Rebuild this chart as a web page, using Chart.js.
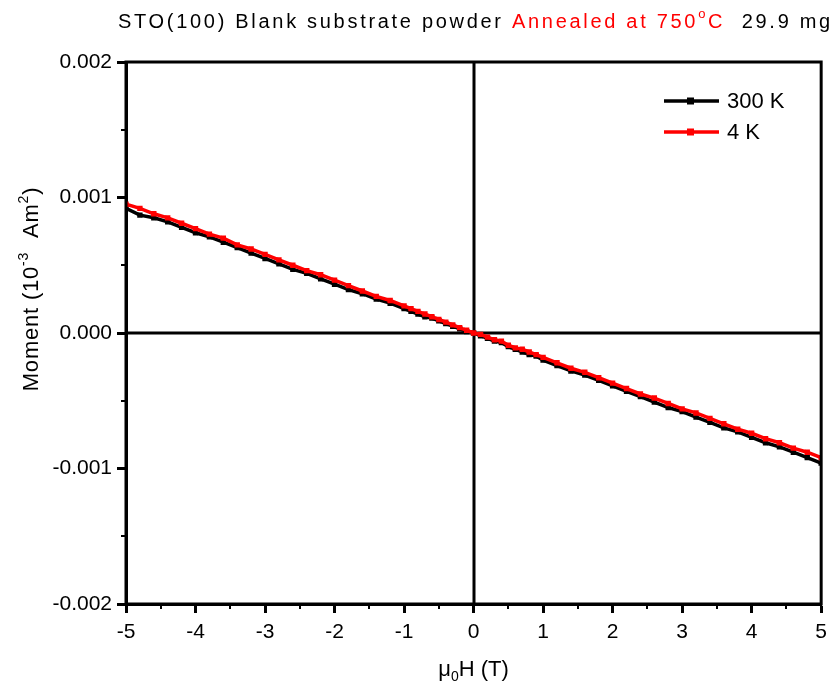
<!DOCTYPE html>
<html>
<head>
<meta charset="utf-8">
<script src="https://cdn.jsdelivr.net/npm/chart.js@4.4.0/dist/chart.umd.min.js"></script>
<style>
  html, body { margin: 0; padding: 0; background: #fff; }
  #wrap { width: 834px; height: 688px; position: relative; }
</style>
</head>
<body>
<div id="wrap"><canvas id="mh-chart"></canvas></div>
<script>
// field in tesla
const fieldT = [
    -5.0, -4.8, -4.6, -4.4, -4.2, -4.0, -3.8, -3.6, -3.4, -3.2,
    -3.0, -2.8, -2.6, -2.4, -2.2, -2.0, -1.8, -1.6, -1.4, -1.2,
    -1.0, -0.9, -0.8, -0.7, -0.6, -0.5, -0.4, -0.3, -0.2, -0.1,
    0.0, 0.1, 0.2, 0.3, 0.4, 0.5, 0.6, 0.7, 0.8, 0.9, 1.0,
    1.2, 1.4, 1.6, 1.8, 2.0, 2.2, 2.4, 2.6, 2.8,
    3.0, 3.2, 3.4, 3.6, 3.8, 4.0, 4.2, 4.4, 4.6, 4.8, 5.0
];

const moment300K = [
    0.00092, 0.00087, 0.00085, 0.00082, 0.00078, 0.00074, 0.00071, 0.00067, 0.00063, 0.00059,
    0.00055, 0.00051, 0.00047, 0.00044, 0.00040, 0.00036, 0.00032, 0.00029, 0.00025, 0.00022,
    0.00018, 0.00016, 0.00014, 0.00012, 0.00011, 0.00009, 0.00007, 0.00005, 0.00003, 0.00001,
    0.00000, -0.00002, -0.00004, -0.00006, -0.00007, -0.00010, -0.00012, -0.00014, -0.00016, -0.00017, -0.00020,
    -0.00024, -0.00028, -0.00031, -0.00035, -0.00039, -0.00043, -0.00047, -0.00051, -0.00055,
    -0.00058, -0.00062, -0.00066, -0.00070, -0.00073, -0.00077, -0.00081, -0.00084, -0.00088, -0.00092, -0.00096
];

const moment4K = [
    0.00095, 0.00092, 0.00088, 0.00085, 0.00081, 0.00077, 0.00073, 0.00070, 0.00065, 0.00062,
    0.00058, 0.00054, 0.00050, 0.00046, 0.00043, 0.00039, 0.00035, 0.00031, 0.00027, 0.00024,
    0.00020, 0.00018, 0.00016, 0.00014, 0.00012, 0.00010, 0.00008, 0.00006, 0.00004, 0.00002,
    0.00000, -0.00001, -0.00003, -0.00005, -0.00006, -0.00009, -0.00011, -0.00012, -0.00014, -0.00016, -0.00018,
    -0.00022, -0.00026, -0.00029, -0.00033, -0.00037, -0.00041, -0.00045, -0.00048, -0.00052,
    -0.00056, -0.00059, -0.00063, -0.00067, -0.00071, -0.00074, -0.00078, -0.00081, -0.00085, -0.00088, -0.00092
];

const seriesNames = ["300 K", "4 K"];
const seriesColors = ["#000000", "#ff0000"];
const xMinorTicks = [-4.5, -3.5, -2.5, -1.5, -0.5, 0.5, 1.5, 2.5, 3.5, 4.5];
const yMinorTicks = [0.0015, 0.0005, -0.0005, -0.0015];

const FONT = "'Liberation Sans', Arial, sans-serif";

const toPoints = (xs, ys) => xs.map((x, i) => ({x, y: ys[i]}));

// frame, zero lines, minor ticks, titles and legend
const decorations = {
    id: "decorations",
    beforeDatasetsDraw(chart) {
        const {ctx, chartArea: a, scales: {x, y}} = chart;
        ctx.save();
        ctx.strokeStyle = "#000";
        ctx.lineWidth = 3;
        ctx.beginPath();
        const x0 = Math.round(x.getPixelForValue(0));
        const y0 = Math.round(y.getPixelForValue(0));
        ctx.moveTo(x0, a.top);
        ctx.lineTo(x0, a.bottom);
        ctx.moveTo(a.left, y0);
        ctx.lineTo(a.right, y0);
        ctx.stroke();
        ctx.restore();
    },
    afterDraw(chart) {
        const {ctx, chartArea: a, scales: {x, y}} = chart;
        ctx.save();
        ctx.strokeStyle = "#000";
        ctx.lineWidth = 3;
        ctx.strokeRect(a.left, a.top, a.right - a.left, a.bottom - a.top);

        ctx.lineWidth = 2;
        ctx.beginPath();
        xMinorTicks.forEach(v => {
            const px = Math.round(x.getPixelForValue(v));
            ctx.moveTo(px, a.bottom);
            ctx.lineTo(px, a.bottom + 5);
        });
        yMinorTicks.forEach(v => {
            const py = Math.round(y.getPixelForValue(v));
            ctx.moveTo(a.left, py);
            ctx.lineTo(a.left - 5, py);
        });
        ctx.stroke();

        // title
        ctx.textBaseline = "alphabetic";
        ctx.textAlign = "left";
        ctx.letterSpacing = "2.7px";
        ctx.font = "20px " + FONT;
        const parts = [
            ["STO(100) Blank substrate powder ", "#000"],
            ["Annealed at 750", "#ff0000"]
        ];
        let tx = 118;
        const ty = 28;
        parts.forEach(([t, c]) => {
            ctx.fillStyle = c;
            ctx.fillText(t, tx, ty);
            tx += ctx.measureText(t).width;
        });
        ctx.font = "13px " + FONT;
        ctx.fillStyle = "#ff0000";
        ctx.fillText("o", tx, ty - 10);
        tx += ctx.measureText("o").width;
        ctx.font = "20px " + FONT;
        ctx.fillText("C", tx, ty);
        tx += ctx.measureText("C").width;
        ctx.fillStyle = "#000";
        ctx.fillText("  29.9 mg", tx, ty);
        ctx.letterSpacing = "0px";

        // x axis title
        const s1 = "\u03bc", s2 = "H (T)";
        ctx.font = "22px " + FONT;
        const w1 = ctx.measureText(s1).width;
        const w2 = ctx.measureText(s2).width;
        ctx.font = "14px " + FONT;
        const wSub = ctx.measureText("0").width;
        const xt = (a.left + a.right) / 2 - (w1 + wSub + w2) / 2;
        const yt = 676;
        ctx.font = "22px " + FONT;
        ctx.fillText(s1, xt, yt);
        ctx.font = "14px " + FONT;
        ctx.fillText("0", xt + w1, yt + 5);
        ctx.font = "22px " + FONT;
        ctx.fillText(s2, xt + w1 + wSub, yt);

        // y axis title
        ctx.translate(38, 289);
        ctx.rotate(-Math.PI / 2);
        ctx.letterSpacing = "0.8px";
        const segs = [
            ["Moment (10", 22, 0],
            ["-3", 14, -10],
            ["  Am", 22, 0],
            ["2", 14, -10],
            [")", 22, 0]
        ];
        let total = 0;
        segs.forEach(([t, size]) => { ctx.font = size + "px " + FONT; total += ctx.measureText(t).width; });
        let sx = -total / 2;
        segs.forEach(([t, size, dy]) => {
            ctx.font = size + "px " + FONT;
            ctx.fillText(t, sx, dy);
            sx += ctx.measureText(t).width;
        });
        ctx.letterSpacing = "0px";
        ctx.setTransform(1, 0, 0, 1, 0, 0);

        // legend
        const legendY = [101, 132];
        seriesNames.forEach((name, i) => {
            const ly = legendY[i];
            ctx.strokeStyle = seriesColors[i];
            ctx.fillStyle = seriesColors[i];
            ctx.lineWidth = 3.5;
            ctx.beginPath();
            ctx.moveTo(664, ly);
            ctx.lineTo(719, ly);
            ctx.stroke();
            ctx.fillRect(687, ly - 3.5, 7, 7);
            ctx.fillStyle = "#000";
            ctx.font = "22px " + FONT;
            ctx.textBaseline = "middle";
            ctx.fillText(name, 727, ly + 1);
        });
        ctx.restore();
    }
};

new Chart(document.getElementById("mh-chart"), {
    type: "line",
    data: {
        datasets: [
            {
                label: seriesNames[1],
                data: toPoints(fieldT, moment4K),
                borderColor: seriesColors[1],
                backgroundColor: seriesColors[1],
                borderWidth: 3.5,
                pointStyle: "rect",
                pointRadius: 3.8,
                pointBorderWidth: 0,
                order: 0
            },
            {
                label: seriesNames[0],
                data: toPoints(fieldT, moment300K),
                borderColor: seriesColors[0],
                backgroundColor: seriesColors[0],
                borderWidth: 3.5,
                pointStyle: "rect",
                pointRadius: 3.8,
                pointBorderWidth: 0,
                order: 1
            }
        ]
    },
    options: {
        responsive: true,
        maintainAspectRatio: false,
        animation: false,
        events: [],
        layout: {padding: {top: 62, right: 11, left: 0, bottom: 0}},
        plugins: {legend: {display: false}, title: {display: false}, tooltip: {enabled: false}},
        scales: {
            x: {
                type: "linear",
                min: -5,
                max: 5,
                ticks: {
                    stepSize: 1,
                    color: "#000",
                    font: {family: FONT, size: 21},
                    padding: 7,
                    maxRotation: 0
                },
                grid: {drawOnChartArea: false, tickLength: 9, tickWidth: 3, tickColor: "#000"},
                border: {color: "#000", width: 3},
                afterFit(scale) { scale.height = 84; }
            },
            y: {
                type: "linear",
                min: -0.002,
                max: 0.002,
                ticks: {
                    stepSize: 0.001,
                    color: "#000",
                    font: {family: FONT, size: 21},
                    padding: 5,
                    callback: v => v.toFixed(3)
                },
                grid: {drawOnChartArea: false, tickLength: 9, tickWidth: 3, tickColor: "#000"},
                border: {color: "#000", width: 3},
                afterFit(scale) { scale.width = 126; }
            }
        }
    },
    plugins: [decorations]
});
</script>
</body>
</html>
